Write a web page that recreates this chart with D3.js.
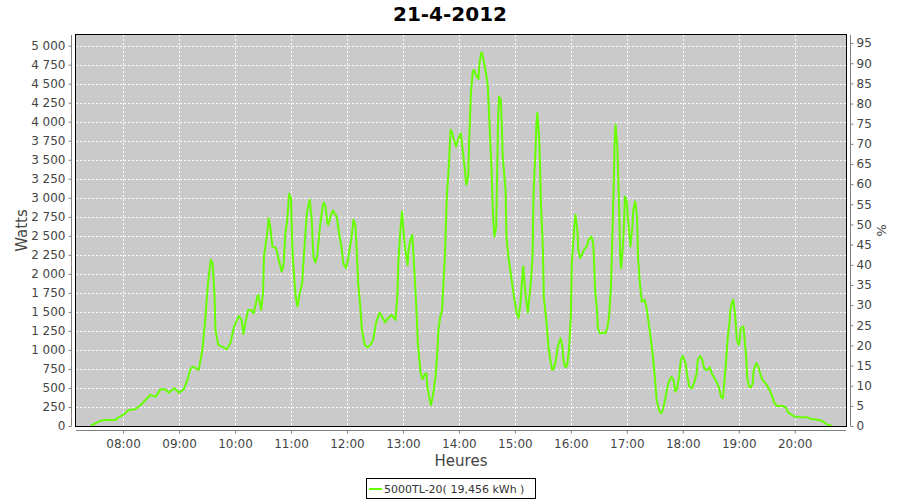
<!DOCTYPE html>
<html><head><meta charset="utf-8">
<script src="https://cdn.jsdelivr.net/npm/d3@7/dist/d3.min.js"></script>
<style>
body{margin:0;background:#fff;}
svg text{font-family:"DejaVu Sans",sans-serif;}
</style></head>
<body><svg id="c" width="900" height="500"></svg>
<script>
const title = "21-4-2012";
const seriesName = "5000TL-20( 19,456 kWh )";
const times = ["07:25","07:30","07:36","07:41","07:46","07:52","07:55","08:00","08:06","08:13","08:19","08:24","08:29","08:35","08:40","08:45","08:49","08:55","09:00","09:05","09:09","09:12","09:15","09:21","09:25","09:28","09:31","09:34","09:36","09:38","09:39","09:42","09:46","09:51","09:55","09:59","10:04","10:07","10:09","10:11","10:14","10:17","10:20","10:24","10:25","10:28","10:30","10:31","10:35","10:36","10:38","10:40","10:44","10:46","10:50","10:52","10:54","10:56","10:58","11:00","11:01","11:02","11:05","11:07","11:09","11:12","11:13","11:15","11:17","11:20","11:22","11:24","11:26","11:28","11:31","11:34","11:35","11:37","11:39","11:40","11:43","11:45","11:49","11:51","11:54","11:56","11:59","12:01","12:05","12:07","12:09","12:11","12:12","12:14","12:16","12:19","12:22","12:25","12:28","12:31","12:35","12:38","12:41","12:44","12:48","12:52","12:54","12:55","12:57","12:59","13:00","13:02","13:05","13:06","13:08","13:10","13:11","13:13","13:15","13:16","13:19","13:21","13:23","13:25","13:26","13:28","13:30","13:32","13:35","13:37","13:38","13:40","13:42","13:43","13:45","13:47","13:49","13:51","13:53","13:54","13:57","13:59","14:02","14:06","14:08","14:10","14:11","14:12","14:13","14:15","14:16","14:19","14:21","14:22","14:24","14:25","14:27","14:29","14:31","14:32","14:35","14:36","14:37","14:38","14:40","14:41","14:42","14:43","14:45","14:46","14:47","14:50","14:51","14:53","14:55","14:57","14:59","15:02","15:04","15:06","15:08","15:09","15:11","15:13","15:14","15:17","15:19","15:20","15:22","15:23","15:24","15:26","15:27","15:28","15:30","15:31","15:34","15:36","15:38","15:40","15:42","15:44","15:46","15:49","15:51","15:52","15:54","15:56","15:58","16:00","16:01","16:04","16:05","16:07","16:08","16:10","16:12","16:14","16:17","16:19","16:22","16:24","16:25","16:26","16:28","16:29","16:31","16:35","16:37","16:39","16:41","16:43","16:45","16:46","16:47","16:48","16:50","16:52","16:53","16:54","16:56","16:57","16:58","17:00","17:01","17:04","17:06","17:07","17:09","17:11","17:12","17:14","17:16","17:19","17:21","17:23","17:25","17:28","17:30","17:32","17:35","17:37","17:39","17:41","17:43","17:45","17:48","17:50","17:52","17:54","17:56","17:58","18:00","18:03","18:05","18:07","18:10","18:12","18:15","18:16","18:19","18:21","18:23","18:25","18:27","18:29","18:31","18:34","18:37","18:39","18:41","18:43","18:44","18:46","18:48","18:50","18:51","18:53","18:54","18:56","18:57","18:58","19:00","19:01","19:02","19:05","19:06","19:08","19:09","19:11","19:13","19:15","19:16","19:19","19:21","19:23","19:25","19:28","19:30","19:33","19:36","19:38","19:41","19:44","19:48","19:51","19:53","19:57","20:00","20:04","20:08","20:11","20:14","20:19","20:22","20:25","20:29","20:33","20:36","20:40"];
const watts = [0,35,70,80,80,80,114,145,210,220,276,342,408,386,482,482,438,496,438,482,605,745,780,737,1000,1395,1877,2184,2140,1702,1263,1066,1044,1009,1088,1307,1447,1395,1210,1350,1526,1526,1482,1702,1724,1526,1746,2228,2579,2732,2600,2360,2338,2228,2031,2118,2535,2711,3053,2996,2491,2184,1702,1570,1724,1877,2097,2447,2798,2974,2754,2228,2149,2228,2623,2886,2939,2886,2667,2645,2776,2833,2754,2579,2360,2140,2075,2184,2491,2711,2645,2184,1877,1614,1263,1066,1035,1066,1132,1350,1491,1430,1360,1417,1461,1395,1702,2140,2535,2820,2667,2360,2118,2316,2447,2513,2316,1877,1395,1088,693,614,671,693,539,386,276,386,649,1000,1263,1439,1526,1790,2228,3018,3368,3895,3851,3785,3675,3763,3851,3412,3171,3281,3763,4092,4399,4662,4684,4596,4561,4772,4912,4895,4772,4640,4465,4202,3368,2974,2667,2491,2623,3325,4026,4333,4289,3938,3544,3105,2491,2228,2053,1877,1702,1482,1417,1614,1965,2097,1790,1570,1491,1877,2228,3062,3588,3938,4114,3807,3412,2886,2360,1702,1350,1044,868,737,759,868,1044,1154,1044,868,772,790,1000,1439,2140,2667,2776,2579,2316,2206,2250,2316,2360,2447,2491,2404,2140,1790,1526,1285,1219,1228,1219,1285,1439,1833,2711,3193,3763,3960,3632,2754,2184,2075,2404,2667,3018,2952,2754,2360,2623,2842,2952,2754,2228,1877,1636,1658,1570,1395,1219,912,649,342,189,167,232,342,474,583,649,605,452,496,649,868,921,825,649,518,496,561,693,868,921,868,759,737,745,772,693,627,561,496,386,364,496,780,1132,1350,1526,1636,1658,1482,1307,1132,1066,1110,1285,1307,1175,912,649,518,509,561,737,825,780,693,614,570,539,474,386,307,263,263,263,232,175,145,123,123,110,123,110,88,88,80,70,35,13,0];
const hourTicks = ["08:00","09:00","10:00","11:00","12:00","13:00","14:00","15:00","16:00","17:00","18:00","19:00","20:00"];
const leftTicks = d3.range(0, 5001, 250);
const rightTicks = d3.range(0, 96, 5);

const svg = d3.select("#c");
const L = 76, T = 35, R = 846, B = 426;
const toMin = s => { const p = s.split(":"); return +p[0]*60 + +p[1]; };
const x = d3.scaleLinear().domain([429.5, 1255]).range([L, R]);
const y = d3.scaleLinear().domain([0, 5140]).range([B, T]);
const y2 = d3.scaleLinear().domain([0, 97]).range([B, T]);
const data = times.map((t,i)=>({m:toMin(t), w:watts[i]}));

svg.append("rect").attr("x",0).attr("y",0).attr("width",900).attr("height",500).attr("fill","#fff");
svg.append("text").attr("x",450).attr("y",21).attr("text-anchor","middle")
  .attr("font-size",20).attr("font-weight","bold").attr("fill","#000").text(title);

svg.append("rect").attr("x",L).attr("y",T).attr("width",R-L).attr("height",B-T).attr("fill","#cacaca");

const g = svg.append("g");
g.selectAll(".hg").data(leftTicks.filter(v=>v>0)).join("line")
  .attr("x1",L).attr("x2",R).attr("y1",d=>Math.round(y(d))+0.5).attr("y2",d=>Math.round(y(d))+0.5)
  .attr("stroke","#fff").attr("stroke-dasharray","2,2");
g.selectAll(".vg").data(hourTicks).join("line")
  .attr("y1",T).attr("y2",B).attr("x1",d=>Math.round(x(toMin(d)))+0.5).attr("x2",d=>Math.round(x(toMin(d)))+0.5)
  .attr("stroke","#fff").attr("stroke-dasharray","2,2");

svg.append("clipPath").attr("id","cp").append("rect").attr("x",L).attr("y",T).attr("width",R-L).attr("height",B-T);
svg.append("path").datum(data).attr("clip-path","url(#cp)")
  .attr("d", d3.line().x(d=>x(d.m)).y(d=>y(d.w)))
  .attr("fill","none").attr("stroke","#66ff00").attr("stroke-width",2).attr("stroke-linejoin","round");

svg.append("rect").attr("x",L-0.5).attr("y",T-0.5).attr("width",R-L+1).attr("height",B-T+1)
  .attr("fill","none").attr("stroke","#000").attr("stroke-width",1);

const fmt = v => d3.format(",")(v).replace(/,/g," ");
const la = svg.append("g").attr("transform",`translate(${L-4.5},0)`)
  .call(d3.axisLeft(y).tickValues(leftTicks).tickFormat(fmt).tickSizeOuter(0).tickSize(3).tickPadding(3));
const ra = svg.append("g").attr("transform",`translate(${R+4.5},0)`)
  .call(d3.axisRight(y2).tickValues(rightTicks).tickSizeOuter(0).tickSize(3).tickPadding(3));
const ba = svg.append("g").attr("transform",`translate(0,${B+4.5})`)
  .call(d3.axisBottom(x).tickValues(hourTicks.map(toMin)).tickFormat((d,i)=>hourTicks[i]).tickSizeOuter(0).tickSize(3).tickPadding(6));
[la,ra,ba].forEach(a=>{
  a.selectAll("text").attr("font-size",12).attr("fill","#444").attr("font-family","DejaVu Sans, sans-serif");
  a.selectAll("line").attr("stroke","#808080");
  a.select(".domain").attr("stroke","#808080");
});
la.select(".domain").attr("d",`M0,${T}V${B}`);
ra.select(".domain").attr("d",`M0,${T}V${B}`);
ba.select(".domain").attr("d",`M${L},0H${R}`);

svg.append("text").attr("transform",`translate(27,${(T+B)/2}) rotate(-90)`).attr("text-anchor","middle")
  .attr("font-size",15).attr("fill","#444").text("Watts");
svg.append("text").attr("transform",`translate(877,${(T+B)/2}) rotate(90)`).attr("text-anchor","middle")
  .attr("font-size",13).attr("fill","#444").text("%");
svg.append("text").attr("x",(L+R)/2).attr("y",466).attr("text-anchor","middle")
  .attr("font-size",15).attr("fill","#444").text("Heures");

const lg = svg.append("g");
lg.append("rect").attr("x",366.5).attr("y",478.5).attr("width",169).attr("height",20).attr("fill","#fff").attr("stroke","#000");
lg.append("line").attr("x1",369).attr("x2",382).attr("y1",489).attr("y2",489).attr("stroke","#66ff00").attr("stroke-width",2);
lg.append("text").attr("x",384).attr("y",493).attr("font-size",11).attr("fill","#333").text(seriesName);
</script></body></html>
